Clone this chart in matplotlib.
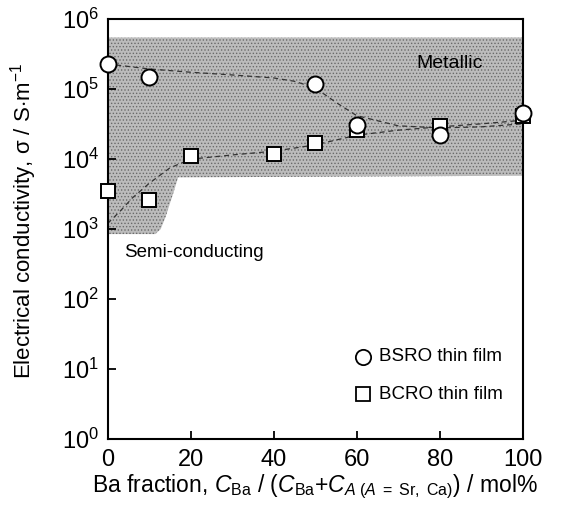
import numpy as np
import matplotlib
matplotlib.use('Agg')
import matplotlib.pyplot as plt

plt.rcParams['font.family'] = ['Liberation Sans', 'DejaVu Sans']
plt.rcParams['mathtext.fontset'] = 'custom'
plt.rcParams['mathtext.rm'] = 'Liberation Sans'
plt.rcParams['mathtext.it'] = 'Liberation Sans:italic'
plt.rcParams['hatch.linewidth'] = 0.6

# measured points
bsroX = [0, 10, 50, 60, 80, 100]
bsroY = [2.3e5, 1.5e5, 1.2e5, 3.1e4, 2.2e4, 4.6e4]
bcroX = [0, 10, 20, 40, 50, 60, 80, 100]
bcroY = [3.5e3, 2.6e3, 1.1e4, 1.2e4, 1.7e4, 2.6e4, 3.0e4, 4.2e4]

# dashed guide curves
bsroTrendX = [0, 10, 20, 30, 40, 45, 50, 55, 60, 70, 80, 90, 100]
bsroTrendY = [2.3e5, 1.95e5, 1.75e5, 1.6e5, 1.45e5, 1.3e5, 1.05e5, 6.5e4, 4.2e4, 3.0e4, 2.8e4, 2.9e4, 3.2e4]
bcroTrendX = [0, 3, 6, 10, 15, 20, 30, 40, 50, 60, 70, 80, 90, 100]
bcroTrendY = [1.2e3, 1.8e3, 2.8e3, 4.5e3, 7.5e3, 1.0e4, 1.15e4, 1.3e4, 1.6e4, 2.2e4, 2.6e4, 2.9e4, 3.2e4, 3.6e4]

# metallic / semi-conducting shaded region
regionX = [0, 11.5, 12.8, 14.0, 15.0, 16.0, 17.0, 100]
regionLow = [8.5e2, 8.5e2, 1.0e3, 1.5e3, 2.3e3, 3.5e3, 5.5e3, 5.8e3]
regionHigh = [5.5e5] * 8

fig = plt.figure(figsize=(5.75, 5.07), dpi=100)
ax = fig.add_axes([0.187, 0.134, 0.722, 0.828])

ax.fill_between(regionX, regionLow, regionHigh, facecolor='#bcbcbc',
                edgecolor='#6a6a6a', hatch='.....', linewidth=0, zorder=1)

ax.plot(bsroTrendX, bsroTrendY, ls=(0, (4, 3)), color='#333333', lw=0.9, zorder=2)
ax.plot(bcroTrendX, bcroTrendY, ls=(0, (4, 3)), color='#333333', lw=0.9, zorder=2)

ax.plot(bcroX, bcroY, 's', mfc='white', mec='black', mew=1.4, ms=10.5,
        ls='none', clip_on=False, zorder=3)
ax.plot(bsroX, bsroY, 'o', mfc='white', mec='black', mew=1.4, ms=11.5,
        ls='none', clip_on=False, zorder=4)

ax.text(82.5, 2.3e5, 'Metallic', fontsize=14, ha='center', va='center', zorder=5)
ax.text(4, 4.7e2, 'Semi-conducting', fontsize=13.5, ha='left', va='center', zorder=5)

# legend drawn as markers and text
ax.plot([61.5], [15.0], 'o', mfc='white', mec='black', mew=1.3, ms=11, zorder=5)
ax.text(65.5, 15.0, 'BSRO thin film', fontsize=13.5, va='center', zorder=5)
ax.plot([61.5], [4.4], 's', mfc='white', mec='black', mew=1.3, ms=10, zorder=5)
ax.text(65.5, 4.4, 'BCRO thin film', fontsize=13.5, va='center', zorder=5)

ax.set_yscale('log')
ax.set_xlim(0, 100)
ax.set_ylim(1, 1e6)
ax.set_xticks([0, 20, 40, 60, 80, 100])
ax.set_yticks([1e0, 1e1, 1e2, 1e3, 1e4, 1e5, 1e6])
ax.set_yticklabels([r'$10^{%d}$' % i for i in range(7)])
ax.yaxis.set_minor_locator(matplotlib.ticker.NullLocator())
ax.tick_params(direction='in', length=6, width=1.3, labelsize=17, pad=6)
ax.tick_params(axis='x', pad=7)
for s in ax.spines.values():
    s.set_linewidth(1.5)

ax.set_xlabel(r'Ba fraction, $C_{\mathrm{Ba}}$ / ($C_{\mathrm{Ba}}$+$C_{A\ (A\ =\ \mathrm{Sr,\ Ca})}$) / mol%',
              fontsize=16.5, labelpad=1)
ax.set_ylabel(r'Electrical conductivity, σ / S$\cdot$m$^{-1}$', fontsize=16)
ax.yaxis.set_label_coords(-0.165, 0.52)

fig.savefig('out.png', dpi=100)
